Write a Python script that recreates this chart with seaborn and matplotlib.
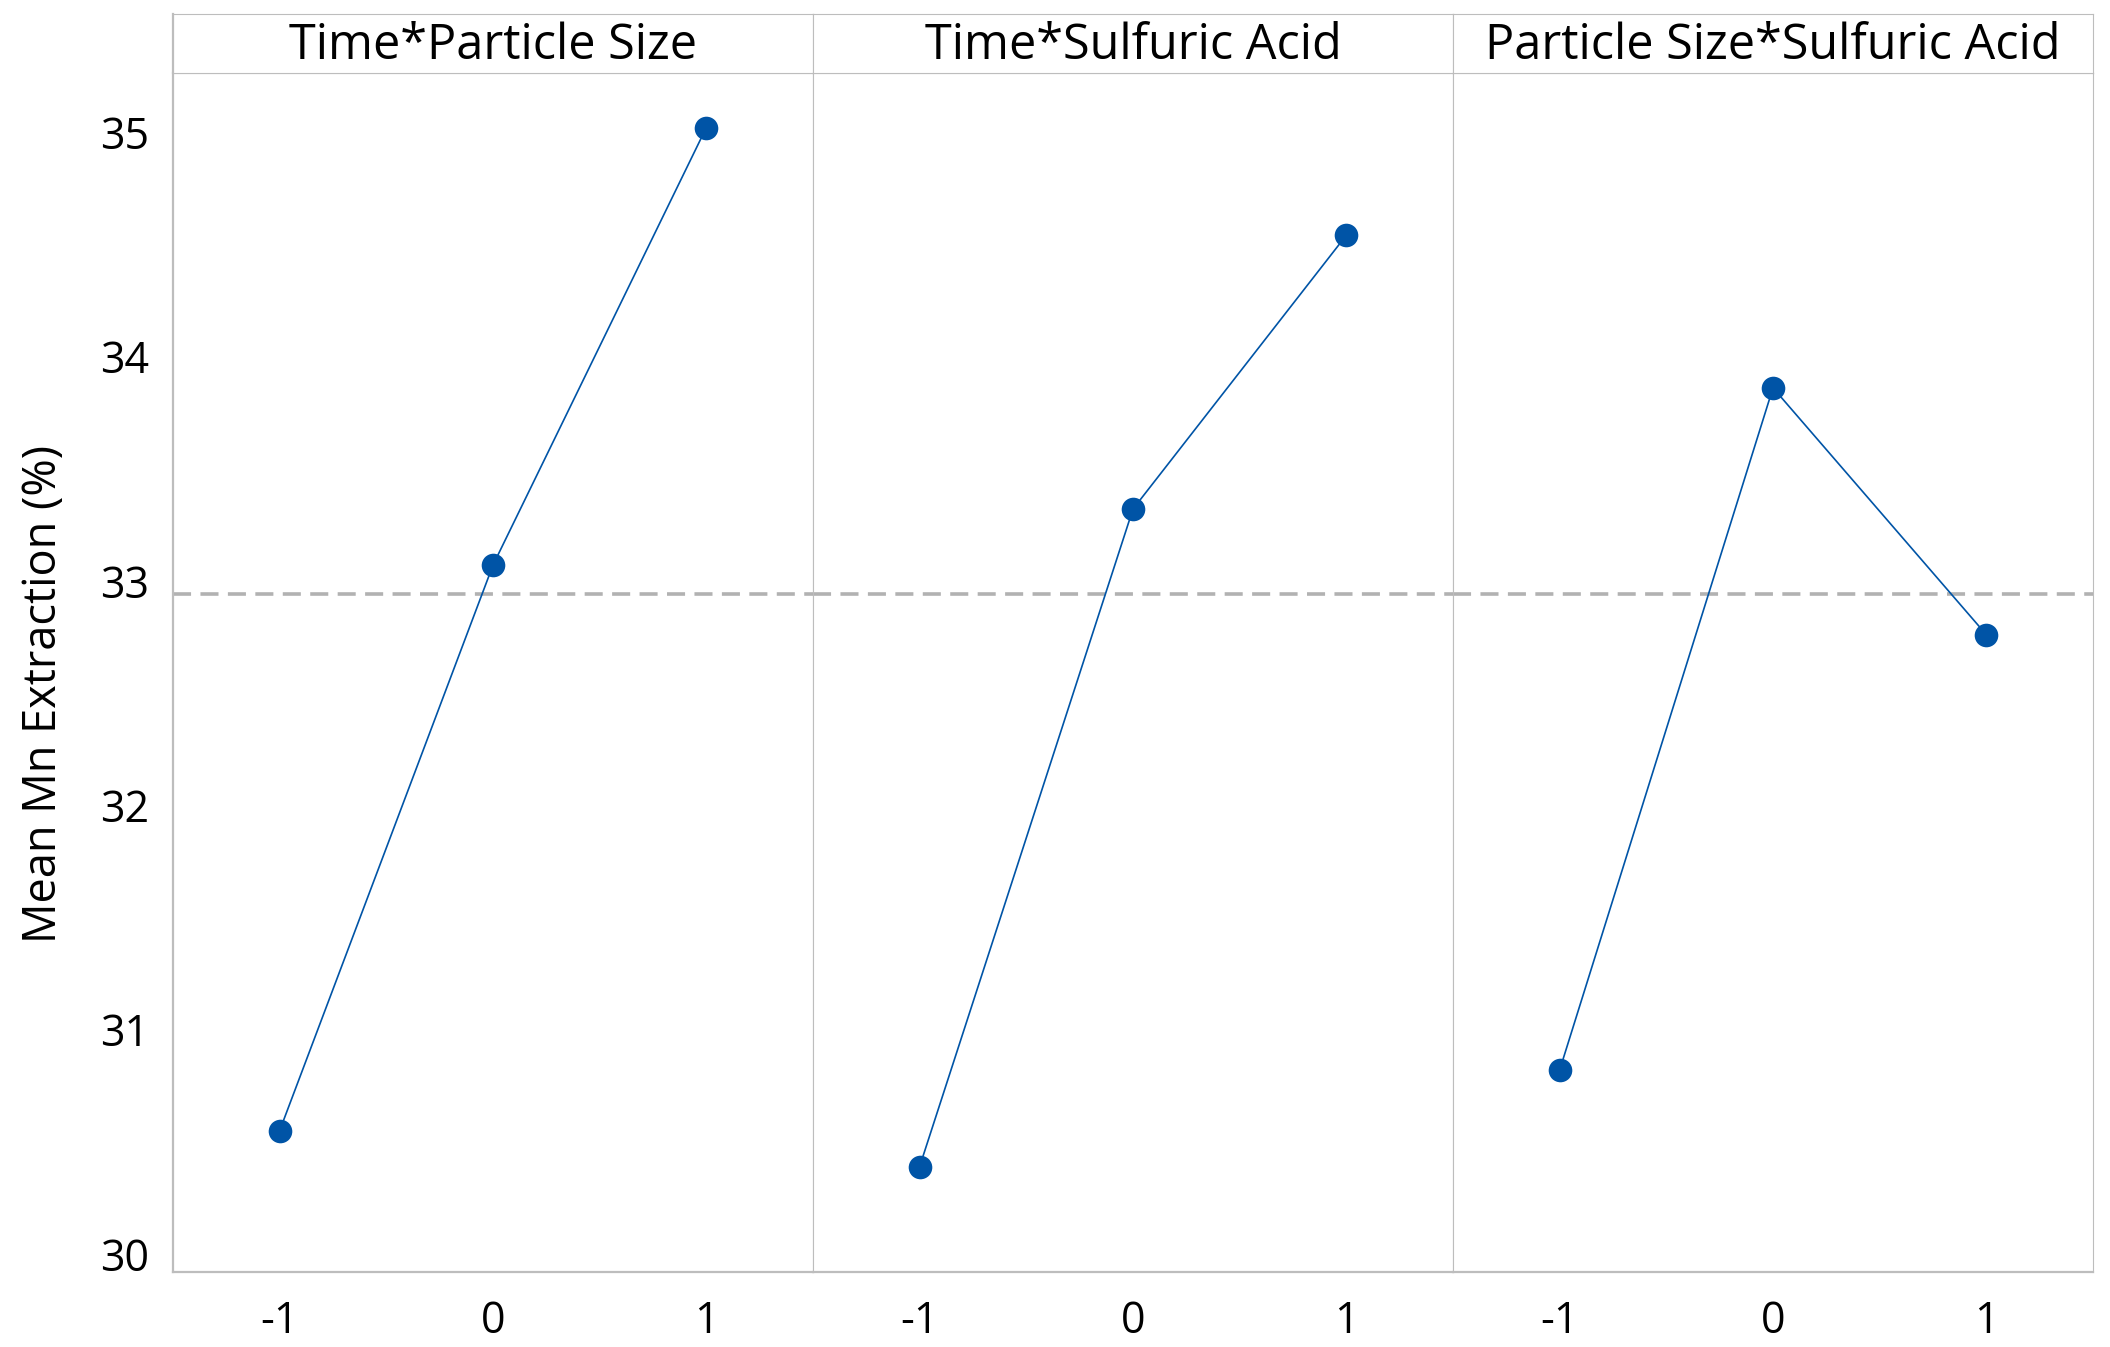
import pandas as pd
import matplotlib.pyplot as plt
import seaborn as sns

panels = ["Time*Particle Size", "Time*Sulfuric Acid", "Particle Size*Sulfuric Acid"]
levels = [-1, 0, 1]
time_particle = [30.55, 33.07, 35.02]
time_acid = [30.39, 33.32, 34.54]
particle_acid = [30.82, 33.86, 32.76]
overall_mean = 32.94

rows = []
for name, vals in zip(panels, [time_particle, time_acid, particle_acid]):
    for lv, v in zip(levels, vals):
        rows.append({"panel": name, "level": lv, "mean": v})
df = pd.DataFrame(rows)

sns.set_style("white")
plt.rcParams['font.family'] = ['Open Sans', 'DejaVu Sans']
plt.rcParams['text.color'] = 'black'
plt.rcParams['axes.labelcolor'] = 'black'
plt.rcParams['xtick.labelcolor'] = 'black'
plt.rcParams['ytick.labelcolor'] = 'black'

frame = "#BDBDBD"
blue = "#0054A6"

fig = plt.figure(figsize=(21.1, 13.47), dpi=100)
left, right = 173 / 2110, 2093 / 2110
bottom, top = 1 - 1272 / 1347, 1 - 73 / 1347
head_top = 1 - 14 / 1347
w = (right - left) / 3

for i, name in enumerate(panels):
    ax = fig.add_axes([left + i * w, bottom, w, top - bottom])
    sub = df[df["panel"] == name]
    sns.lineplot(data=sub, x="level", y="mean", ax=ax, color=blue, linewidth=1.2,
                 marker="o", markersize=17, markeredgewidth=0, markerfacecolor=blue)
    ax.axhline(overall_mean, color="#B2B2B2", linestyle=(0, (5, 2.6)), linewidth=2.6, zorder=0)
    ax.set_xlim(-1.5, 1.5)
    ax.set_ylim(29.92, 35.263)
    ax.set_xticks(levels)
    ax.set_xticklabels(["-1", "0", "1"])
    ax.set_xlabel("")
    for s in ax.spines.values():
        s.set_color(frame)
        s.set_linewidth(0.8)
    ax.spines["bottom"].set_linewidth(1.6)
    ax.tick_params(axis="x", length=12, width=1.2, color=frame, labelsize=31, pad=8)
    if i == 0:
        ax.spines["left"].set_linewidth(1.6)
        ax.set_yticks([30, 31, 32, 33, 34, 35])
        ax.tick_params(axis="y", length=9, width=1.2, color=frame, labelsize=31, pad=8)
        ax.set_ylabel("Mean Mn Extraction (%)", fontsize=32.5, labelpad=24)
        ax.yaxis.label.set_y(0.482)
    else:
        ax.set_yticks([])
        ax.set_ylabel("")

    hax = fig.add_axes([left + i * w, top, w, head_top - top])
    hax.set_xticks([])
    hax.set_yticks([])
    for s in hax.spines.values():
        s.set_color(frame)
        s.set_linewidth(0.8)
    if i == 0:
        hax.spines["left"].set_linewidth(1.6)
    hax.text(0.5, 0.46, name, ha="center", va="center", fontsize=35, transform=hax.transAxes)

fig.savefig("out.png", dpi=100)
